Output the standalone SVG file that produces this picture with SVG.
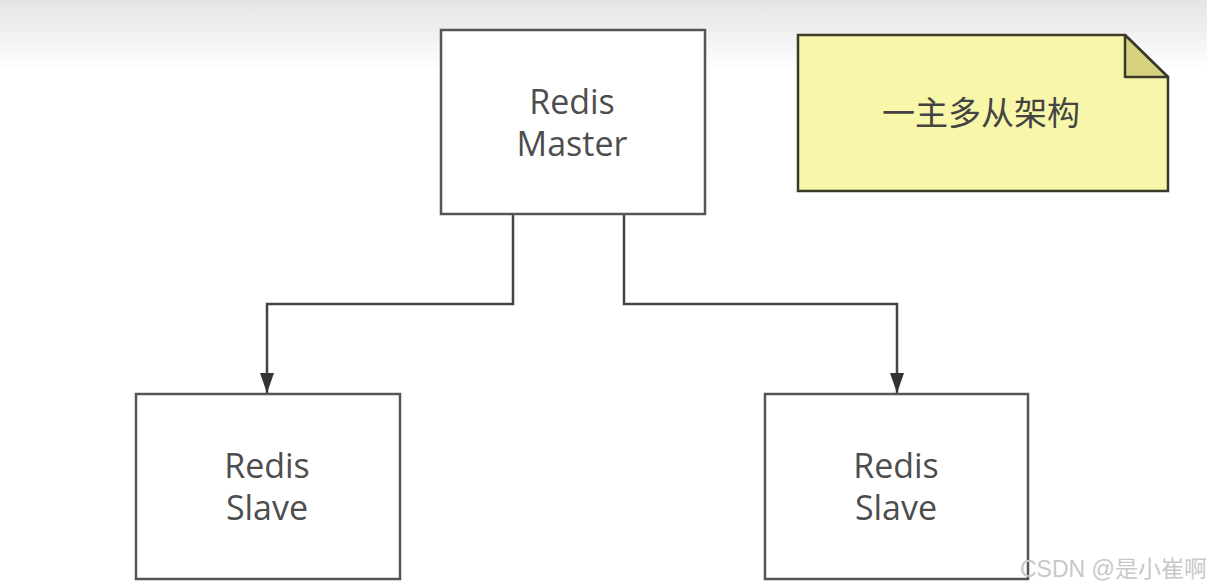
<svg xmlns="http://www.w3.org/2000/svg" width="1207" height="588" viewBox="0 0 1207 588">
<defs>
<linearGradient id="bg" x1="0" y1="0" x2="0" y2="1">
<stop offset="0" stop-color="#e4e4e4"/>
<stop offset="1" stop-color="#ffffff"/>
</linearGradient>
<marker id="arr" viewBox="0 0 20 14" refX="20" refY="7" markerWidth="20" markerHeight="14" markerUnits="userSpaceOnUse" orient="auto">
<path d="M0,0 L20,7 L0,14 Z" fill="#333"/>
</marker>
<style>
.box{fill:#fff;stroke:#555;stroke-width:2.5}
.lbl{font-family:"Open Sans","Noto Sans",sans-serif;font-size:34px;fill:#4d4d4d;text-anchor:middle}
.conn{fill:none;stroke:#444;stroke-width:2.5}
.note{fill:#f8f6a8;stroke:#3a3a2a;stroke-width:2.5}
.fold{fill:#d7d27f;stroke:#3a3a2a;stroke-width:2.5;stroke-linejoin:round}
.cjk{font-family:"Noto Sans CJK SC",sans-serif;font-size:33px;fill:#444;text-anchor:middle}
.wm{font-family:"Liberation Sans","Noto Sans CJK SC",sans-serif;font-size:23px;fill:#c8c8c8}
</style>
</defs>
<rect x="0" y="0" width="1207" height="70" fill="url(#bg)"/>
<rect x="0" y="70" width="1207" height="518" fill="#fff"/>
<g id="connectors">
<path class="conn" d="M513,215 V304 H267 V393" marker-end="url(#arr)"/>
<path class="conn" d="M624,215 V304 H897 V393" marker-end="url(#arr)"/>
</g>
<g id="master">
<rect class="box" x="441" y="30" width="264" height="184"/>
<text class="lbl" x="572" y="114">Redis</text>
<text class="lbl" x="572" y="156">Master</text>
</g>
<g id="slave-left">
<rect class="box" x="136" y="394" width="264" height="185"/>
<text class="lbl" x="267" y="478">Redis</text>
<text class="lbl" x="267" y="520">Slave</text>
</g>
<g id="slave-right">
<rect class="box" x="765" y="394" width="263" height="185"/>
<text class="lbl" x="896" y="478">Redis</text>
<text class="lbl" x="896" y="520">Slave</text>
</g>
<g id="note">
<path class="note" d="M798,35 H1125 L1168,77 V191 H798 Z"/>
<path class="fold" d="M1125,35 V77 H1168 Z"/>
<text class="cjk" x="981" y="125">一主多从架构</text>
</g>
<text class="wm" x="1020" y="577">CSDN @是小崔啊</text>
</svg>
